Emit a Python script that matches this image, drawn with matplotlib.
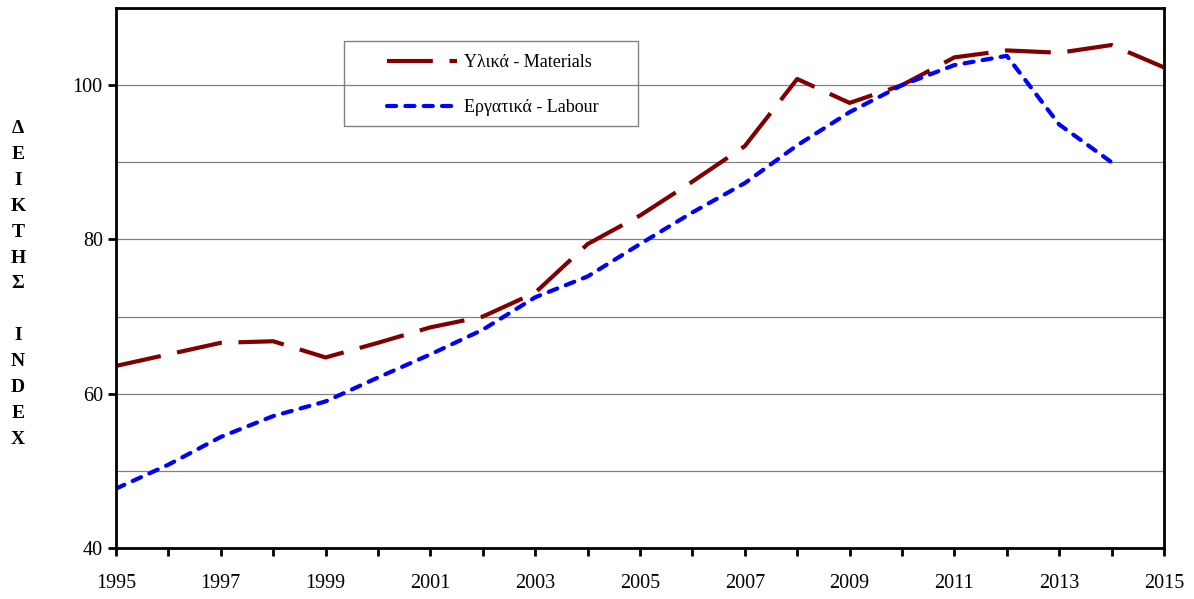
import matplotlib.pyplot as plt
from matplotlib.patches import Rectangle

years = list(range(1995, 2016))
materials = [63.6, 65.1, 66.6, 66.8, 64.7, 66.6, 68.6, 70.0, 73.1, 79.4, 83.1,
             87.5, 92.1, 100.8, 97.7, 100.0, 103.6, 104.5, 104.2, 105.2, 102.3]
labour_years = list(range(1995, 2015))
labour = [47.7, 50.8, 54.4, 57.1, 59.0, 62.1, 65.1, 68.3, 72.5, 75.2, 79.4,
          83.5, 87.3, 92.2, 96.5, 100.0, 102.6, 103.8, 94.9, 90.0]

plt.rcParams['font.family'] = ['Liberation Serif', 'DejaVu Serif']

fig = plt.figure(figsize=(11.94, 5.99), dpi=100)
ax = fig.add_axes([116/1194, 51/599, 1048/1194, 540/599])

# grid lines every 10
for g in range(50, 110, 10):
    ax.axhline(g, color='#808080', lw=0.9, zorder=0)

ax.plot(years, materials, color='#800000', lw=3.0, dashes=(11, 4),
        label='Υλικά - Materials')
ax.plot(labour_years, labour, color='#0000FF', lw=3.0, dashes=(2.2, 2.2),
        dash_capstyle='round', label='Εργατικά - Labour')

ax.set_xlim(1995, 2015)
ax.set_ylim(40, 110)
ax.set_xticks(years, minor=True)
ax.set_xticks(years[::2])
ax.set_yticks([40, 60, 80, 100])
ax.tick_params(axis='both', which='major', direction='out', length=6, width=2,
               labelsize=14.5)
ax.tick_params(axis='x', which='minor', direction='out', length=6, width=2)
ax.tick_params(axis='x', pad=13)
for s in ax.spines.values():
    s.set_linewidth(2)

leg = ax.legend(loc='center left', bbox_to_anchor=(271/1048, 1 - 77/540),
                fontsize=13, frameon=False, borderpad=0,
                labelspacing=1.55, handlelength=3.9, borderaxespad=0,
                handletextpad=0.35)
fig.patches.append(Rectangle((344/1194, 1 - 126/599), 294/1194, 85/599,
                             transform=fig.transFigure, fill=False,
                             edgecolor='#808080', lw=1.0, zorder=5))

fig.text(18/1194, 1 - 284/599, 'Δ\nΕ\nΙ\nΚ\nΤ\nΗ\nΣ\n\nΙ\nΝ\nD\nE\nX',
         ha='center', va='center', fontsize=14, fontweight='bold',
         linespacing=1.68)

fig.savefig('out.png', dpi=100)
